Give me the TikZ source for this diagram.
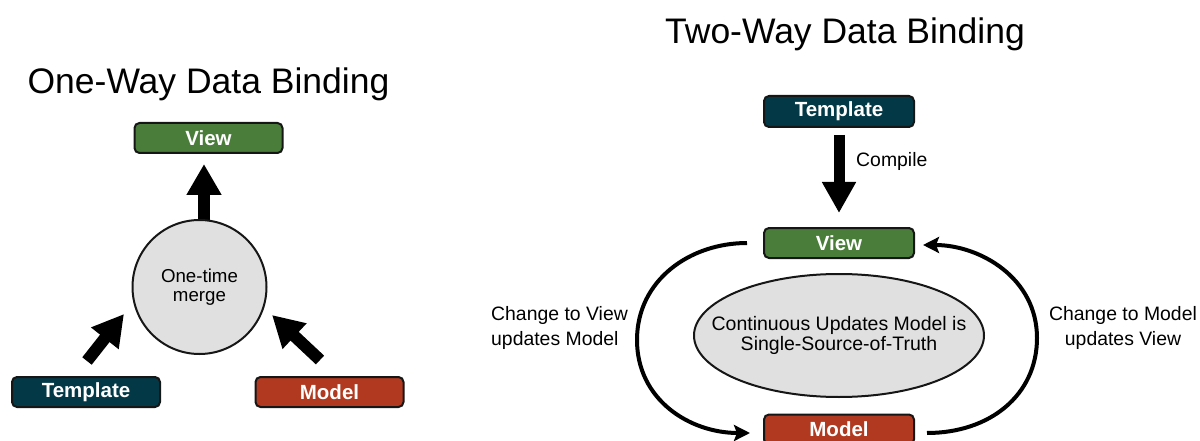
\documentclass[tikz,border=0pt]{standalone}
\usepackage{fontspec}
\setmainfont{Liberation Sans}
\usetikzlibrary{arrows.meta,shapes.geometric}

\definecolor{viewgreen}{RGB}{74,124,58}
\definecolor{tplteal}{RGB}{3,57,71}
\definecolor{modelred}{RGB}{176,57,31}
\definecolor{mergegray}{RGB}{224,224,224}
\definecolor{edgeblack}{RGB}{22,22,22}

\tikzset{
  tagbox/.style={rectangle, rounded corners=5pt, draw=edgeblack, line width=2pt,
    minimum width=148pt, minimum height=30pt, inner sep=0pt, text=white,
    font=\bfseries\fontsize{20.5}{24}\selectfont},
  viewbox/.style={tagbox, fill=viewgreen},
  tplbox/.style={tagbox, fill=tplteal},
  modelbox/.style={tagbox, fill=modelred},
  heading/.style={anchor=base, font=\fontsize{35.5}{40}\selectfont},
  note/.style={font=\fontsize{19.4}{25}\selectfont, inner sep=0pt},
  fatarrow/.style={line width=12pt, -{Triangle[length=31pt,width=33pt]}},
  compilearrow/.style={line width=11pt, -{Triangle[length=31pt,width=32pt]}},
  looparrow/.style={line width=4pt, -{Stealth[length=16pt,width=16pt,inset=3pt]}},
}

\begin{document}
\begin{tikzpicture}[x=1pt, y=-1pt]
  \useasboundingbox (0,0) rectangle (1200,441);
  \clip (0,0) rectangle (1200,441);

  % ---------- one-way binding ----------
  \node[heading] (titleL) at (208.5,94) {One-Way Data Binding};

  \node[viewbox]  (viewL)  at (208.5,138) {View};
  \node[tplbox]   (tplL)   at (86,392)    {Template};
  \node[modelbox] (modelL) at (329.5,392) {Model};

  \coordinate (upTail)  at (204,226);
  \coordinate (upTip)   at (204,164);
  \coordinate (tplTail) at (87,361);
  \coordinate (tplTip)  at (124,314);
  \coordinate (modTail) at (320,360);
  \coordinate (modTip)  at (272,315);

  \draw[fatarrow] (upTail) -- (upTip);
  \draw[fatarrow] (tplTail) -- (tplTip);
  \draw[fatarrow] (modTail) -- (modTip);

  \node[circle, draw=edgeblack, line width=2pt, fill=mergegray,
        minimum size=134pt, inner sep=0pt, align=center,
        font=\fontsize{18.7}{19}\selectfont] (merge) at (199.5,287)
        {One-time\\merge};

  % ---------- two-way binding ----------
  \node[heading] (titleR) at (845,44) {Two-Way Data Binding};

  \node[tplbox, minimum width=150pt, minimum height=31pt] (tplR)   at (839,111.5) {Template};
  \node[viewbox, minimum width=150pt]                     (viewR)  at (839,243)   {View};
  \node[modelbox, minimum width=150pt]                    (modelR) at (839,429.5) {Model};

  \draw[compilearrow] ([yshift=-7pt]tplR.south) -- ([yshift=14pt]viewR.north);
  \node[note, anchor=west] (compile) at (856,161) {Compile};

  % the oval is sized on its own; its two text lines sit on top of it
  \node[ellipse, draw=edgeblack, line width=2pt, fill=mergegray,
        minimum width=290pt, minimum height=123pt, inner sep=0pt] (truth) at (839,335.5) {};
  \node[align=center, inner sep=0pt, font=\fontsize{19.5}{20}\selectfont]
        (truthtext) at (truth.center) {Continuous Updates Model is\\Single-Source-of-Truth};

  \draw[looparrow] ([xshift=-16pt]viewR.west)
      .. controls (690,243) and (637,280) .. (637,340)
      .. controls (637,400) and (690,433) .. ([xshift=-13pt,yshift=-3.5pt]modelR.west);

  \draw[looparrow] ([xshift=12pt,yshift=-3.5pt]modelR.east)
      .. controls (990,433) and (1037,395) .. (1037,338)
      .. controls (1037,278) and (980,245) .. ([xshift=8pt,yshift=-2pt]viewR.east);

  \node[note, anchor=west, align=left] (leftnote) at (491,327.5)
        {Change to View\\updates Model};
  \node[note, align=center] (rightnote) at (1123,327.5)
        {Change to Model\\updates View};
\end{tikzpicture}
\end{document}
